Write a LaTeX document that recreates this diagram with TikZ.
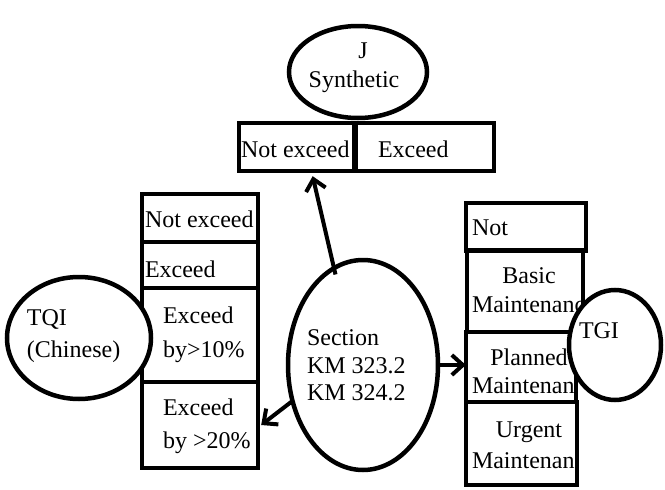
\documentclass[tikz,border=0pt]{standalone}
\usepackage{fontspec}
\setmainfont{Liberation Serif}
\usetikzlibrary{arrows.meta,shapes.geometric,calc}
\begin{document}
\begin{tikzpicture}[x=1pt,y=-1pt,
  box/.style={draw,line width=4.5pt},
  oval/.style={draw,ellipse,line width=4.5pt,inner sep=0pt,outer sep=0pt,fill=white},
  txt/.style={inner sep=0pt,outer sep=0pt,anchor=base west,font=\fontsize{24}{28}\selectfont},
  ctxt/.style={txt,anchor=base},
  arr/.style={line width=4pt,-{Straight Barb[length=11pt,width=20pt]}}]
\useasboundingbox (0,0) rectangle (665,490);
% box shapes (named, drawn later)
\path
  (296.5,147) node[minimum width=115pt,minimum height=48pt,inner sep=0pt] (t1) {}
  (425,147)   node[minimum width=138pt,minimum height=48pt,inner sep=0pt] (t2) {}
  (200,218)   node[minimum width=116pt,minimum height=48pt,inner sep=0pt] (l1) {}
  (200,265)   node[minimum width=116pt,minimum height=46pt,inner sep=0pt] (l2) {}
  (200,335)   node[minimum width=116pt,minimum height=94pt,inner sep=0pt] (l3) {}
  (200,425)   node[minimum width=116pt,minimum height=86pt,inner sep=0pt] (l4) {}
  (526,227)   node[minimum width=120pt,minimum height=48pt,inner sep=0pt] (r1) {}
  (525,291)   node[minimum width=116pt,minimum height=82pt,inner sep=0pt] (r2) {}
  (521,367)   node[minimum width=110pt,minimum height=70pt,inner sep=0pt] (r3) {}
  (521.5,443.5) node[minimum width=111pt,minimum height=83pt,inner sep=0pt] (r4) {};
% texts in boxes
\node[txt] (tx1) at (241,157) {Not exceed};
\node[txt] (tx2) at (378,157) {Exceed};
\node[txt] (lx1) at (145,227) {Not exceed};
\node[txt] (lx2) at (145,277) {Exceed};
\node[txt] (lx3a) at (163,323) {Exceed};
\node[txt] (lx3b) at (163,357) {by>10\%};
\node[txt] (lx4a) at (163,415) {Exceed};
\node[txt] (lx4b) at (163,448) {by >20\%};
\node[txt] (rx1) at (472,235) {Not};
\node[ctxt] (rx2a) at (529,283) {Basic};
\node[ctxt] (rx3a) at (529,365) {Planned};
\node[ctxt] (rx4a) at (529,437) {Urgent};
\begin{scope}
\clip (r2.south west) rectangle (r2.north east);
\node[txt] (rx2b) at (472,312) {Maintenance};
\end{scope}
\begin{scope}
\clip (r3.south west) rectangle (r3.north east);
\node[txt] (rx3b) at (472,393) {Maintenance};
\end{scope}
\begin{scope}
\clip (r4.south west) rectangle (r4.north east);
\node[txt] (rx4b) at (472,468) {Maintenance};
\end{scope}
% draw box borders
\foreach \b in {t1,t2,l1,l2,l3,l4,r1,r2,r3,r4}
  \draw[box] (\b.south west) rectangle (\b.north east);
% ellipses
\node[oval,minimum width=138pt,minimum height=92pt] (js) at (358,72) {};
\node[oval,minimum width=144pt,minimum height=122pt] (tqi) at (79,338) {};
\node[oval,minimum width=92pt,minimum height=110pt] (tgi) at (615,345) {};
\node[oval,minimum width=150pt,minimum height=210pt] (sec) at (363,365) {};
\node[ctxt] (jx1) at (363,58) {J};
\node[ctxt] (jx2) at (354,87) {Synthetic};
\node[txt] (qx1) at (27,325) {TQI};
\node[txt] (qx2) at (27,357) {(Chinese)};
\node[txt] (gx1) at (579,338) {TGI};
\node[txt] (sx1) at (307,345) {Section};
\node[txt] (sx2) at (307,373) {KM 323.2};
\node[txt] (sx3) at (307,400) {KM 324.2};
% arrows
\draw[arr] ($(sec.107)+(2,6)$) -- ($(t1.south west)!0.64!(t1.south east)+(0,5)$);
\draw[arr] (sec.east) -- (sec.east -| r3.west);
\draw[arr] (sec.207) -- ($(l4.east)+(3,0)$);
\end{tikzpicture}
\end{document}
